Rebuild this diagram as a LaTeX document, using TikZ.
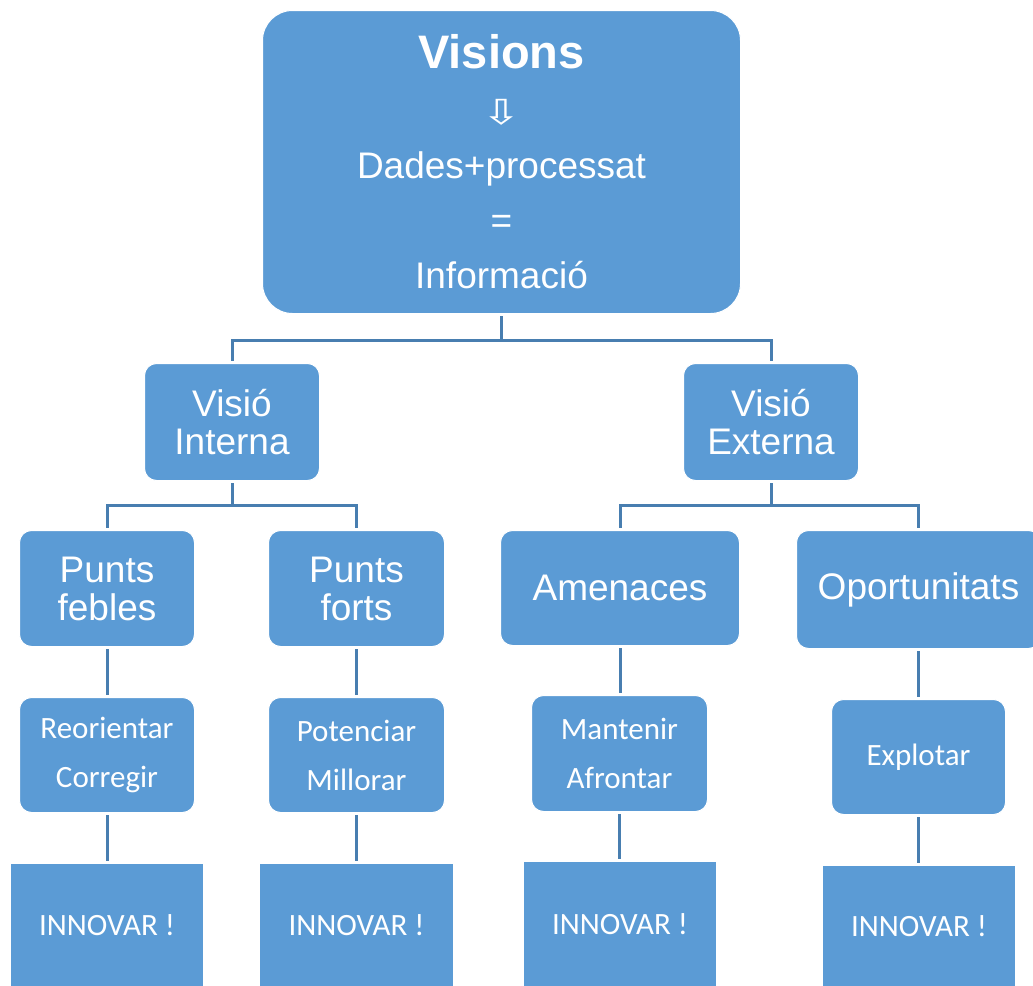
\documentclass[tikz,border=0pt]{standalone}
\usepackage{fontspec}
\setmainfont{Liberation Sans}
\newfontfamily\calfont{Carlito}
\newfontfamily\symfont{DejaVu Sans}
\definecolor{boxblue}{RGB}{91,155,213}
\definecolor{linkblue}{RGB}{72,126,176}
\begin{document}
\begin{tikzpicture}[x=1pt,y=-1pt,
  box/.style={fill=boxblue, draw=white, line width=1pt, text=white, rounded corners=#1,
    inner sep=0pt, anchor=north west, align=center},
  box/.default=12pt,
  arialtxt/.style={font=\fontsize{37}{38}\selectfont},
  caltxt/.style={font=\calfont\fontsize{31}{49}\selectfont},
  link/.style={draw=linkblue, line width=3pt, shorten <=2pt, shorten >=2pt}]
\clip (0,0) rectangle (1033,985);
\fill[white] (0,0) rectangle (1033,985);

% top box
\node[box=30pt, minimum width=478pt, minimum height=303pt,
  font=\fontsize{37}{55}\selectfont] (top) at (262,10)
  {{\bfseries\fontsize{47}{55}\selectfont Visions}\\
   {\symfont\fontsize{48}{55}\selectfont\raisebox{-1pt}{\scalebox{1}[0.72]{⇩}}}\\
   Dades+processat\\ =\\ Informació};

% second level
\node[box, arialtxt, minimum width=175pt, minimum height=117pt] (vi) at (144,363) {Visió\\Interna};
\node[box, arialtxt, minimum width=175pt, minimum height=117pt] (ve) at (683,363) {Visió\\Externa};

% third level
\node[box, arialtxt, minimum width=175pt, minimum height=116pt] (pfe) at (19,530) {Punts\\febles};
\node[box, arialtxt, minimum width=176pt, minimum height=116pt] (pfo) at (268,530) {Punts\\forts};
\node[box, arialtxt, minimum width=239pt, minimum height=115pt] (am) at (500,530) {Amenaces};
\node[box, arialtxt, minimum width=244pt, minimum height=118pt] (op) at (796,530) {Oportunitats};

% actions
\node[box, caltxt, minimum width=175pt, minimum height=115pt] (reo) at (19,697) {Reorientar\\Corregir};
\node[box, caltxt, minimum width=176pt, minimum height=115pt] (pot) at (268,697) {Potenciar\\Millorar};
\node[box, caltxt, minimum width=176pt, minimum height=116pt] (man) at (531,695) {Mantenir\\Afrontar};
\node[box, caltxt, minimum width=174pt, minimum height=115pt] (exp) at (831,699) {Explotar};

% innovation boxes
\node[box=0pt, caltxt, minimum width=193pt, minimum height=124pt] (in1) at (10,863) {INNOVAR !};
\node[box=0pt, caltxt, minimum width=194pt, minimum height=124pt] (in2) at (259,863) {INNOVAR !};
\node[box=0pt, caltxt, minimum width=193pt, minimum height=126pt] (in3) at (523,861) {INNOVAR !};
\node[box=0pt, caltxt, minimum width=193pt, minimum height=122pt] (in4) at (822,865) {INNOVAR !};

% tree connectors
\path[link] (top.south) -- ++(0,26) -| (vi.north);
\path[link] (top.south) -- ++(0,26) -| (ve.north);
\path[link] (vi.south) -- ++(0,24) -| (pfe.north);
\path[link] (vi.south) -- ++(0,24) -| (pfo.north);
\path[link] (ve.south) -- ++(0,24) -| (am.north);
\path[link] (ve.south) -- ++(0,24) -| (op.north);

% straight drops below each heading
\path[link] (pfe.south) -- (pfe.south |- reo.north);
\path[link] (pfo.south) -- (pfo.south |- pot.north);
\path[link] (am.south) -- (am.south |- man.north);
\path[link] (op.south) -- (op.south |- exp.north);

\path[link] (reo.south) -- (reo.south |- in1.north);
\path[link] (pot.south) -- (pot.south |- in2.north);
\path[link] (man.south) -- (man.south |- in3.north);
\path[link] (exp.south) -- (exp.south |- in4.north);
\end{tikzpicture}
\end{document}
